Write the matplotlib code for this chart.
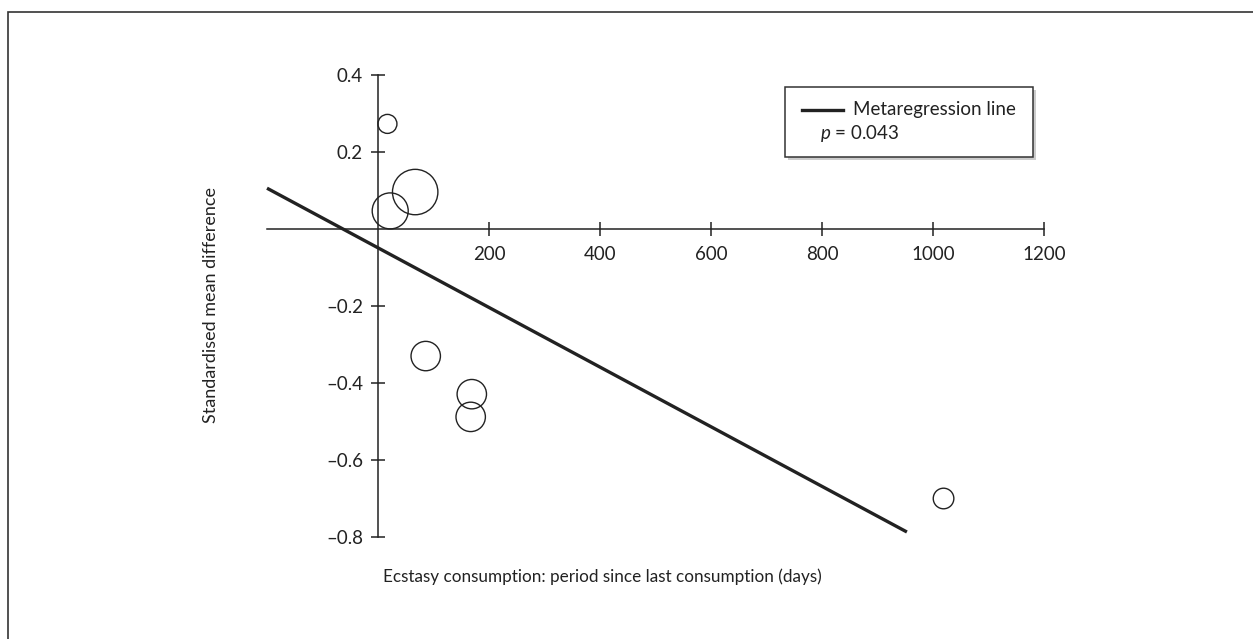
import matplotlib
matplotlib.use("Agg")
import matplotlib.pyplot as plt
from matplotlib.patches import Rectangle
from matplotlib.lines import Line2D

plt.rcParams['font.family'] = ['Lato', 'DejaVu Sans']
plt.rcParams['mathtext.fontset'] = 'custom'
plt.rcParams['mathtext.it'] = 'Lato:italic'
plt.rcParams['mathtext.rm'] = 'Lato'

# study data: days since last use, SMD, marker radius (px, study weight)
days = [17, 22, 67, 86, 169, 167, 1019]
smd = [0.273, 0.047, 0.096, -0.33, -0.429, -0.488, -0.70]
radius_px = [9.5, 18, 22.7, 14.7, 14.7, 14.7, 10.3]

# metaregression line end points
line_x = [-200, 953]
line_y = [0.106, -0.787]

xticks = [200, 400, 600, 800, 1000, 1200]
yticks = [0.4, 0.2, -0.2, -0.4, -0.6, -0.8]
ytick_labels = ['0.4', '0.2', '\u20130.2', '\u20130.4', '\u20130.6', '\u20130.8']

W, H = 1253, 639
ink = '#222222'

fig = plt.figure(figsize=(W / 100, H / 100), dpi=100)

# axes placed so data 0,0 lands at pixel (378, 229)
x0_px, y0_px = 378, 229
px_per_x = 111 / 200
px_per_y = 385
xlim = (-250, 1300)
ylim = (-0.95, 0.5)
left = x0_px + xlim[0] * px_per_x
right = x0_px + xlim[1] * px_per_x
top = y0_px - ylim[1] * px_per_y
bottom = y0_px - ylim[0] * px_per_y
ax = fig.add_axes([left / W, 1 - bottom / H, (right - left) / W, (bottom - top) / H])
ax.set_xlim(*xlim)
ax.set_ylim(*ylim)
ax.patch.set_visible(False)

for s in ['top', 'right']:
    ax.spines[s].set_visible(False)
ax.spines['left'].set_position(('data', 0))
ax.spines['bottom'].set_position(('data', 0))
ax.spines['left'].set_bounds(-0.8, 0.4)
ax.spines['bottom'].set_bounds(-200, 1200)
for s in ['left', 'bottom']:
    ax.spines[s].set_linewidth(1.1)
    ax.spines[s].set_color(ink)

ax.set_xticks(xticks)
ax.set_xticklabels([str(t) for t in xticks])
ax.set_yticks(yticks)
ax.set_yticklabels(ytick_labels)
ax.tick_params(axis='both', direction='inout', length=10.5, width=1.1,
               color=ink, labelcolor=ink, labelsize=13.5)
ax.tick_params(axis='x', pad=7)
ax.tick_params(axis='y', pad=5.5)

# bubbles
sizes = [(2 * r * 0.72) ** 2 for r in radius_px]
ax.scatter(days, smd, s=sizes, facecolors='none', edgecolors=ink,
           linewidths=1.0, zorder=3)

ax.plot(line_x, line_y, color=ink, lw=2.4, solid_capstyle='butt', zorder=4)

fig.text(602 / W, 1 - 577 / H, 'Ecstasy consumption: period since last consumption (days)',
         ha='center', va='center', fontsize=12.3, color=ink)
fig.text(211 / W, 1 - 305 / H, 'Standardised mean difference', rotation=90,
         ha='center', va='center', fontsize=13, color=ink)

# legend box with shadow
fig.patches.append(Rectangle((788 / W, 1 - 160 / H), 248 / W, 70 / H,
                             transform=fig.transFigure, facecolor='#cccccc',
                             edgecolor='none', zorder=5))
fig.patches.append(Rectangle((785 / W, 1 - 157 / H), 248 / W, 70 / H,
                             transform=fig.transFigure, facecolor='white',
                             edgecolor='#333333', lw=1.1, zorder=6))
fig.lines.append(Line2D([802 / W, 843 / W], [1 - 110 / H, 1 - 110 / H],
                        transform=fig.transFigure, color=ink, lw=2.4, zorder=7))
fig.text(853 / W, 1 - 110 / H, 'Metaregression line', ha='left', va='center',
         fontsize=13.5, color=ink, zorder=7)
fig.text(820 / W, 1 - 134 / H, '$p$ = 0.043', ha='left', va='center',
         fontsize=13.5, color=ink, zorder=7)

# outer frame
fig.patches.append(Rectangle((8 / W, -0.1), 1.2, 1.1 - 12 / H,
                             transform=fig.transFigure, fill=False,
                             edgecolor='#333333', lw=1.2))

fig.savefig('out.png', dpi=100)
